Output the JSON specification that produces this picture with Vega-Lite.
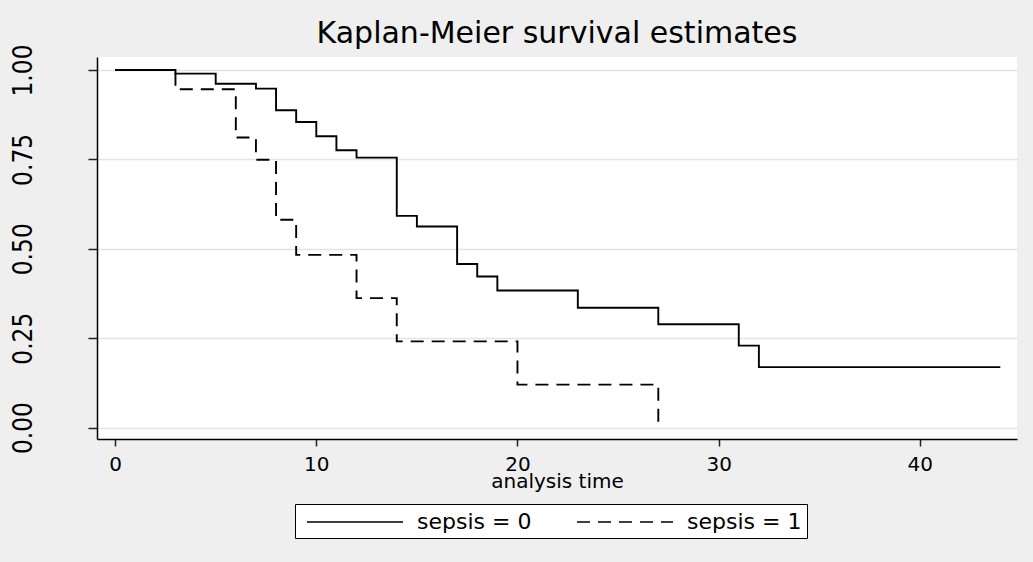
{
  "$schema": "https://vega.github.io/schema/vega-lite/v6.json",
  "width": 920,
  "height": 382,
  "autosize": {"type": "none"},
  "padding": {"left": 97, "top": 57, "right": 16, "bottom": 123},
  "background": "#efefef",
  "title": {
    "text": "Kaplan-Meier survival estimates",
    "font": "DejaVu Sans",
    "fontSize": 30,
    "fontWeight": "normal",
    "color": "#000000",
    "anchor": "middle",
    "baseline": "alphabetic",
    "offset": -29
  },
  "data": {
    "values": [
      {"time": 0, "survival": 1.0, "group": "sepsis = 0"},
      {"time": 3, "survival": 0.9897, "group": "sepsis = 0"},
      {"time": 5, "survival": 0.9617, "group": "sepsis = 0"},
      {"time": 7, "survival": 0.9478, "group": "sepsis = 0"},
      {"time": 8, "survival": 0.8874, "group": "sepsis = 0"},
      {"time": 9, "survival": 0.8547, "group": "sepsis = 0"},
      {"time": 10, "survival": 0.8148, "group": "sepsis = 0"},
      {"time": 11, "survival": 0.7757, "group": "sepsis = 0"},
      {"time": 12, "survival": 0.755, "group": "sepsis = 0"},
      {"time": 14, "survival": 0.592, "group": "sepsis = 0"},
      {"time": 15, "survival": 0.5623, "group": "sepsis = 0"},
      {"time": 17, "survival": 0.4573, "group": "sepsis = 0"},
      {"time": 18, "survival": 0.4226, "group": "sepsis = 0"},
      {"time": 19, "survival": 0.3835, "group": "sepsis = 0"},
      {"time": 23, "survival": 0.335, "group": "sepsis = 0"},
      {"time": 27, "survival": 0.289, "group": "sepsis = 0"},
      {"time": 31, "survival": 0.229, "group": "sepsis = 0"},
      {"time": 32, "survival": 0.169, "group": "sepsis = 0"},
      {"time": 44, "survival": 0.169, "group": "sepsis = 0"},
      {"time": 0, "survival": 1.0, "group": "sepsis = 1"},
      {"time": 3, "survival": 0.946, "group": "sepsis = 1"},
      {"time": 6, "survival": 0.811, "group": "sepsis = 1"},
      {"time": 7, "survival": 0.749, "group": "sepsis = 1"},
      {"time": 8, "survival": 0.581, "group": "sepsis = 1"},
      {"time": 9, "survival": 0.483, "group": "sepsis = 1"},
      {"time": 12, "survival": 0.362, "group": "sepsis = 1"},
      {"time": 14, "survival": 0.241, "group": "sepsis = 1"},
      {"time": 20, "survival": 0.12, "group": "sepsis = 1"},
      {"time": 27, "survival": 0.0, "group": "sepsis = 1"}
    ]
  },
  "mark": {"type": "line", "interpolate": "step-after", "strokeWidth": 1.9, "color": "#000000"},
  "encoding": {
    "x": {
      "field": "time",
      "type": "quantitative",
      "scale": {"domain": [-0.9, 44.83], "nice": false, "zero": false},
      "axis": {
        "values": [0, 10, 20, 30, 40],
        "title": "analysis time",
        "grid": false,
        "labelFont": "DejaVu Sans",
        "labelFontSize": 20,
        "labelColor": "#000000",
        "labelPadding": 8,
        "tickSize": 7,
        "tickWidth": 1.5,
        "tickColor": "#222222",
        "domainColor": "#000000",
        "domainWidth": 1.5,
        "titleFont": "DejaVu Sans",
        "titleFontSize": 20,
        "titleFontWeight": "normal",
        "titleColor": "#000000",
        "titlePadding": -3
      }
    },
    "y": {
      "field": "survival",
      "type": "quantitative",
      "scale": {"domain": [-0.032, 1.0363], "nice": false, "zero": false},
      "axis": {
        "values": [0, 0.25, 0.5, 0.75, 1],
        "format": ".2f",
        "title": null,
        "grid": true,
        "gridColor": "#e4e4e4",
        "gridWidth": 1.5,
        "labelAngle": 270,
        "labelAlign": "center",
        "labelBaseline": "alphabetic",
        "labelFont": "Liberation Sans Narrow, DejaVu Sans Condensed, sans-serif",
        "labelFontSize": 26,
        "labelColor": "#000000",
        "labelPadding": 57,
        "tickSize": 9,
        "tickWidth": 1.5,
        "tickColor": "#222222",
        "domainColor": "#000000",
        "domainWidth": 1.5
      }
    },
    "strokeDash": {
      "field": "group",
      "type": "nominal",
      "scale": {"domain": ["sepsis = 0", "sepsis = 1"], "range": [[1, 0], [13, 8]]},
      "legend": {
        "orient": "none",
        "legendX": 198,
        "legendY": 447,
        "direction": "horizontal",
        "columns": 2,
        "title": null,
        "fillColor": "#ffffff",
        "strokeColor": "#000000",
        "padding": 5,
        "symbolType": "M-4,0H4",
        "symbolSize": 576,
        "symbolStrokeWidth": 1.5,
        "symbolStrokeColor": "#000000",
        "symbolOffset": 42,
        "labelOffset": 49,
        "labelFont": "DejaVu Sans",
        "labelFontSize": 22,
        "labelColor": "#000000",
        "columnPadding": 38
      }
    }
  },
  "config": {
    "view": {"fill": "#ffffff", "stroke": null}
  }
}
